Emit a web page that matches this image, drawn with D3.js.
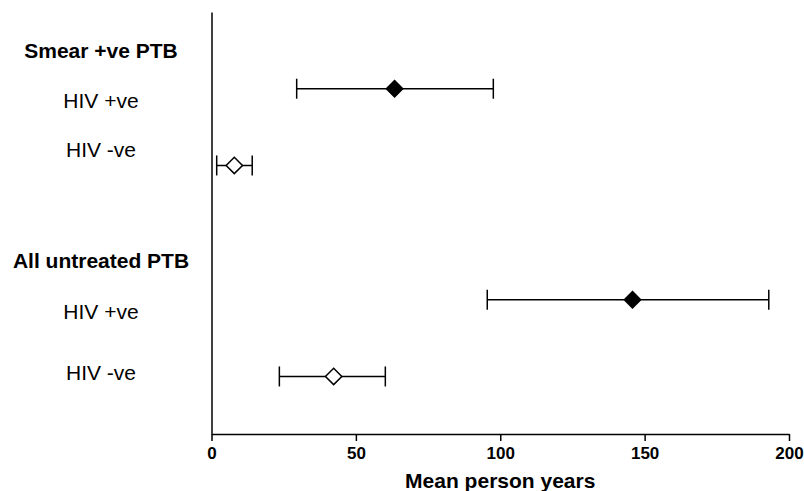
<!DOCTYPE html>
<html>
<head>
<meta charset="utf-8">
<script src="https://cdn.jsdelivr.net/npm/d3@7"></script>
<style>
  body { margin: 0; background: #fff; }
  text { font-family: "Liberation Sans", Arial, sans-serif; fill: #000; }
</style>
</head>
<body>
<svg id="chart"></svg>
<script>
// data
var groups = ["Smear +ve PTB", "All untreated PTB"];
var rowNames = ["HIV +ve", "HIV -ve", "HIV +ve", "HIV -ve"];
var rowY     = [4.5, 3.5, 1.75, 0.75];   // row value on the hidden y axis
var means    = [63.4, 7.9, 145.8, 42.3];
var lower    = [29.5, 1.8, 95.5, 23.5];
var upper    = [97.6, 14.1, 193.0, 60.2];
var xTicks   = [0, 50, 100, 150, 200];

// where the free text labels sit, in y axis units
var groupLabelY = [5.0, 2.26];
var rowLabelY   = [4.35, 3.7, 1.6, 0.8];

var width = 804, height = 491;

var svg = d3.select("#chart")
  .attr("width", width)
  .attr("height", height);

var x = d3.scaleLinear().domain([0, 200]).range([211.5, 789]);
var y = d3.scaleLinear().domain([0, 5.5]).range([434, 12]);

var xAxis = svg.append("g")
  .attr("transform", "translate(0," + y(0) + ")")
  .call(d3.axisBottom(x).tickValues(xTicks).tickSize(7).tickSizeOuter(0).tickPadding(6));
xAxis.selectAll("path, line").attr("stroke", "#000").attr("stroke-width", 1.5);
xAxis.selectAll("text")
  .attr("font-size", 17)
  .attr("font-weight", "bold")
  .attr("font-family", "Liberation Sans, Arial, sans-serif");

var yAxis = svg.append("g")
  .attr("transform", "translate(" + x(0) + ",0)")
  .call(d3.axisLeft(y).tickValues([]).tickSizeOuter(0));
yAxis.select("path").attr("stroke", "#000").attr("stroke-width", 1.5);

svg.append("text")
  .attr("x", (x(0) + x(200)) / 2)
  .attr("y", 488)
  .attr("text-anchor", "middle")
  .attr("font-size", 21)
  .attr("font-weight", "bold")
  .text("Mean person years");

// labels on the left
svg.selectAll(".group-label")
  .data(groups)
  .enter()
  .append("text")
  .attr("class", "group-label")
  .attr("x", 101)
  .attr("y", function(d, i) { return y(groupLabelY[i]); })
  .attr("dy", "0.35em")
  .attr("text-anchor", "middle")
  .attr("font-size", 21)
  .attr("font-weight", "bold")
  .text(function(d) { return d; });

svg.selectAll(".row-label")
  .data(rowNames)
  .enter()
  .append("text")
  .attr("class", "row-label")
  .attr("x", 101)
  .attr("y", function(d, i) { return y(rowLabelY[i]); })
  .attr("dy", "0.35em")
  .attr("text-anchor", "middle")
  .attr("font-size", 21)
  .text(function(d) { return d; });

// error bars
var rows = means.map(function(m, i) {
  return { mean: m, lo: lower[i], hi: upper[i], y: rowY[i], hiv: rowNames[i] };
});

var bars = svg.selectAll(".bar")
  .data(rows)
  .enter()
  .append("g")
  .attr("class", "bar");

bars.append("line")
  .attr("x1", function(d) { return x(d.lo); })
  .attr("x2", function(d) { return x(d.hi); })
  .attr("y1", function(d) { return y(d.y); })
  .attr("y2", function(d) { return y(d.y); })
  .attr("stroke", "#000")
  .attr("stroke-width", 1.5);

bars.selectAll(".cap")
  .data(function(d) { return [{ v: d.lo, y: d.y }, { v: d.hi, y: d.y }]; })
  .enter()
  .append("line")
  .attr("x1", function(d) { return x(d.v); })
  .attr("x2", function(d) { return x(d.v); })
  .attr("y1", function(d) { return y(d.y) - 10; })
  .attr("y2", function(d) { return y(d.y) + 10; })
  .attr("stroke", "#000")
  .attr("stroke-width", 1.5);

var diamond = d3.symbol().type(d3.symbolDiamond2).size(170);

bars.append("path")
  .attr("d", diamond)
  .attr("transform", function(d) { return "translate(" + x(d.mean) + "," + y(d.y) + ")"; })
  .attr("fill", function(d) { return d.hiv === "HIV +ve" ? "#000" : "#fff"; })
  .attr("stroke", "#000")
  .attr("stroke-width", 1.5);
</script>
</body>
</html>
